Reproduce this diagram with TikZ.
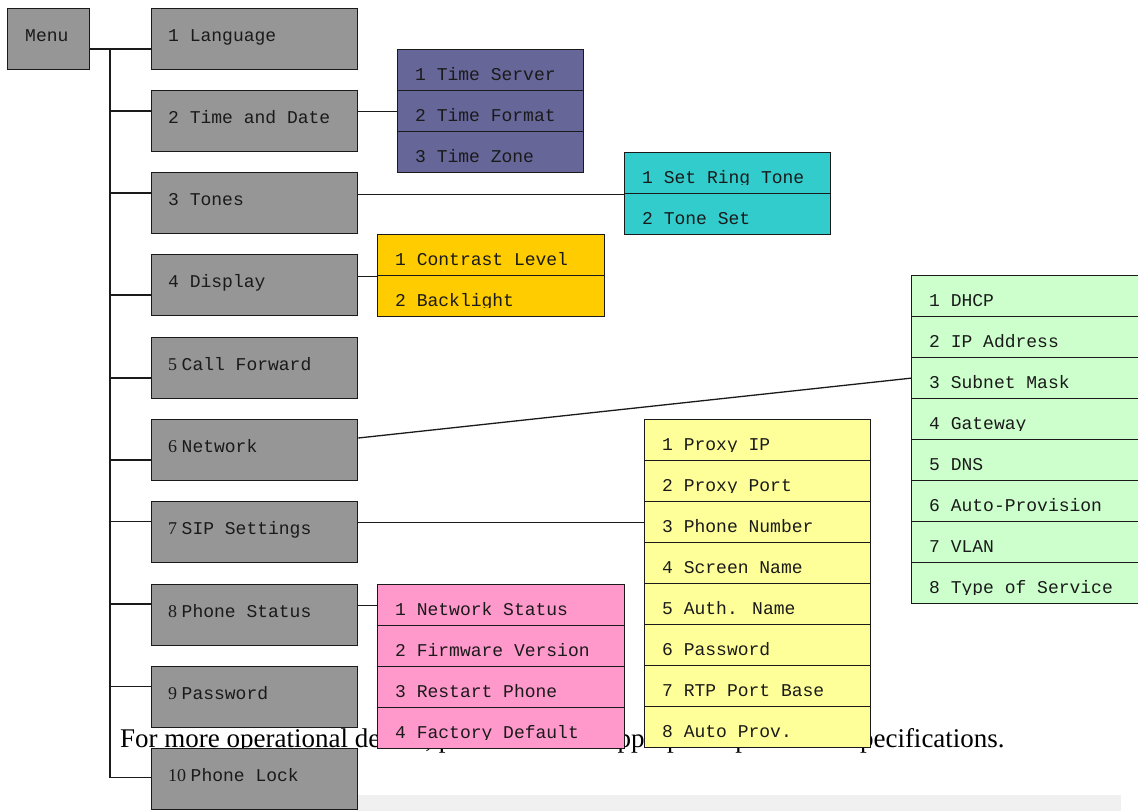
\documentclass[tikz,border=0pt]{standalone}
\usepackage{fontspec}
\setmainfont{Liberation Serif}
\newfontfamily\cour{Liberation Mono}
\usetikzlibrary{calc}
\definecolor{gboxc}{HTML}{969696}
\definecolor{purplec}{HTML}{666699}
\definecolor{cyanc}{HTML}{33CCCC}
\definecolor{orangec}{HTML}{FFCC00}
\definecolor{greenc}{HTML}{CCFFCC}
\definecolor{yellowc}{HTML}{FFFF99}
\definecolor{pinkc}{HTML}{FF99CC}
\definecolor{stripc}{HTML}{F0F0F0}
\definecolor{edgec}{HTML}{1A1A1A}
\tikzset{
  conn/.style={line width=1.3pt, draw=edgec},
  gbox/.style={draw=edgec, line width=1.3pt, fill=gboxc, rectangle, minimum width=206pt, minimum height=61pt, anchor=north west, inner sep=0pt},
  srow/.style={draw=edgec, line width=1.3pt, rectangle, minimum height=41pt, anchor=north west, inner sep=0pt},
  ctext/.style={anchor=base west, inner sep=0pt, text=edgec, font=\cour\fontsize{18}{20}\selectfont},
  notetext/.style={anchor=base west, inner sep=0pt, text=black, font=\fontsize{27}{30}\selectfont}
}
\newcommand\mygbox[3]{%
  \node[gbox] (#1) at (151,#2) {};
  \node[ctext] (#1t) at (168,#2+33) {#3};
}
\newcommand\mysrow[6]{%
  \node[srow, fill=#5, minimum width=#4pt] (#1) at (#2,#3) {};
  \begin{scope}
    \clip (#2,#3) rectangle ++(#4,32.5);
    \node[ctext] (#1t) at (#2+18,#3+31.5) {#6};
  \end{scope}
}
\begin{document}
\begin{tikzpicture}[x=1pt,y=-1pt]
\useasboundingbox (0,0) rectangle (1138,811);
% background text and strip
\fill[stripc] (357,795) rectangle (1121,811);
\node[notetext] (note) at (120,747) {For more operational details, please refer to\hspace{7pt} appropriate product\hspace{25pt} specifications.};

% main menu boxes
\node[gbox, minimum width=82pt] (menu) at (7,8) {};
\node[ctext] (menut) at (25,41) {Menu};
\mygbox{lang}{8}{1 Language}
\mygbox{td}{90}{2 Time and Date}
\mygbox{tones}{172}{3 Tones}
\mygbox{disp}{254}{4 Display}
\mygbox{cf}{337}{{\rmfamily 5 }Call Forward}
\mygbox{nw}{419}{{\rmfamily 6 }Network}
\mygbox{sip}{501}{{\rmfamily 7 }SIP Settings}
\mygbox{ps}{584}{{\rmfamily 8 }Phone Status}
\mygbox{pw}{666}{{\rmfamily 9 }Password}
\mygbox{pl}{748}{{\rmfamily 10 }Phone Lock}

% branch points
\coordinate (trunk) at (110,0);
\coordinate (b1) at ($(lang.north west)+(0,41)$);
\coordinate (b2) at ($(td.north west)+(0,21)$);
\coordinate (b3) at ($(tones.north west)+(0,21)$);
\coordinate (b4) at ($(disp.north west)+(0,41)$);
\coordinate (b5) at ($(cf.north west)+(0,41)$);
\coordinate (b6) at ($(nw.north west)+(0,41)$);
\coordinate (b7) at ($(sip.north west)+(0,20.7)$);
\coordinate (b8) at ($(ps.north west)+(0,20)$);
\coordinate (b9) at ($(pw.north west)+(0,20.7)$);
\coordinate (b10) at ($(pl.north west)+(0,29.7)$);
\draw[conn] (menu.east |- b1) -- (b1);
\draw[conn] (trunk |- b1) -- (trunk |- b10) -- (b10);
\foreach \b in {b2,b3,b4,b5,b6,b7,b8,b9} \draw[conn] (trunk |- \b) -- (\b);

% submenus
\mysrow{ts1}{397}{49}{186}{purplec}{1 Time Server}
\mysrow{ts2}{397}{90}{186}{purplec}{2 Time Format}
\mysrow{ts3}{397}{131}{186}{purplec}{3 Time Zone}

\mysrow{cy1}{624}{152}{206}{cyanc}{1 Set Ring Tone}
\mysrow{cy2}{624}{193}{206}{cyanc}{2 Tone Set}

\mysrow{or1}{377}{234}{227}{orangec}{1 Contrast Level}
\mysrow{or2}{377}{275}{227}{orangec}{2 Backlight}

\mysrow{gr1}{911}{275}{226.5}{greenc}{1 DHCP}
\mysrow{gr2}{911}{316}{226.5}{greenc}{2 IP Address}
\mysrow{gr3}{911}{357}{226.5}{greenc}{3 Subnet Mask}
\mysrow{gr4}{911}{398}{226.5}{greenc}{4 Gateway}
\mysrow{gr5}{911}{439}{226.5}{greenc}{5 DNS}
\mysrow{gr6}{911}{480}{226.5}{greenc}{6 Auto-Provision}
\mysrow{gr7}{911}{521}{226.5}{greenc}{7 VLAN}
\mysrow{gr8}{911}{562}{226.5}{greenc}{8 Type of Service}

\mysrow{ye1}{644}{419}{226}{yellowc}{1 Proxy IP}
\mysrow{ye2}{644}{460}{226}{yellowc}{2 Proxy Port}
\mysrow{ye3}{644}{501}{226}{yellowc}{3 Phone Number}
\mysrow{ye4}{644}{542}{226}{yellowc}{4 Screen Name}
\mysrow{ye5}{644}{583}{226}{yellowc}{5 Auth. Name}
\mysrow{ye6}{644}{624}{226}{yellowc}{6 Password}
\mysrow{ye7}{644}{665}{226}{yellowc}{7 RTP Port Base}
\mysrow{ye8}{644}{706}{226}{yellowc}{8 Auto Prov.}

\mysrow{pk1}{377}{584}{247}{pinkc}{1 Network Status}
\mysrow{pk2}{377}{625}{247}{pinkc}{2 Firmware Version}
\mysrow{pk3}{377}{666}{247}{pinkc}{3 Restart Phone}
\mysrow{pk4}{377}{707}{247}{pinkc}{4 Factory Default}

% connectors to submenus
\draw[conn] (td.east |- ts2.west) -- (ts2.west);
\draw[conn] (tones.east |- cy1.south west) -- (cy1.south west);
\draw[conn] (disp.east |- or1.south west) -- (or1.south west);
\draw[conn] ($(nw.north east)+(0,19)$) -- (gr3.west);
\draw[conn] (sip.east |- ye3.west) -- (ye3.west);
\draw[conn] (ps.east |- pk1.west) -- (pk1.west);
\end{tikzpicture}
\end{document}
